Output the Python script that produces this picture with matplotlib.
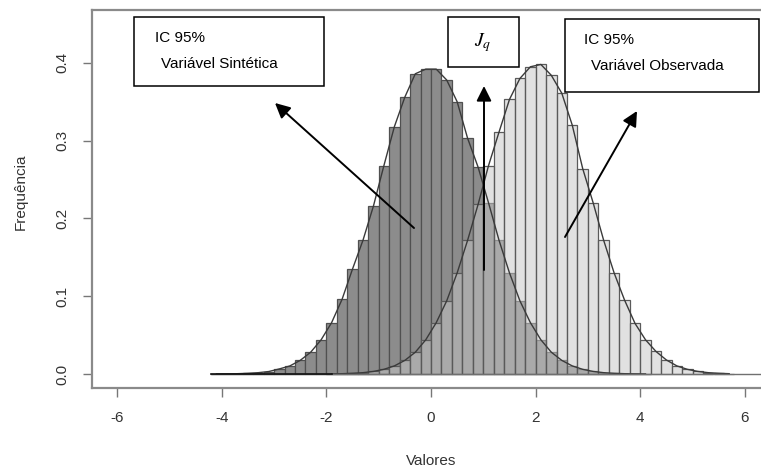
import matplotlib
matplotlib.use("Agg")
import matplotlib.pyplot as plt
from matplotlib.patches import Rectangle

# ---- data ----
bin_width = 0.2
synthetic_centers = [-4.1, -3.9, -3.7, -3.5, -3.3, -3.1, -2.9, -2.7, -2.5, -2.3,
                     -2.1, -1.9, -1.7, -1.5, -1.3, -1.1, -0.9, -0.7, -0.5, -0.3,
                     -0.1, 0.1, 0.3, 0.5, 0.7, 0.9, 1.1, 1.3, 1.5, 1.7,
                     1.9, 2.1, 2.3, 2.5, 2.7, 2.9, 3.1, 3.3, 3.5, 3.7,
                     3.9, 4.1]
synthetic_freq = [0.0001, 0.0002, 0.0004, 0.0009, 0.0017, 0.0032, 0.0065, 0.0103, 0.0175, 0.028,
                  0.044, 0.066, 0.096, 0.135, 0.172, 0.216, 0.268, 0.318, 0.356, 0.386,
                  0.392, 0.392, 0.378, 0.350, 0.303, 0.266, 0.220, 0.172, 0.130, 0.094,
                  0.066, 0.044, 0.028, 0.0175, 0.0104, 0.006, 0.0033, 0.0017, 0.0009, 0.0004,
                  0.0002, 0.0001]
observed_centers = [-1.9, -1.7, -1.5, -1.3, -1.1, -0.9, -0.7, -0.5, -0.3, -0.1,
                    0.1, 0.3, 0.5, 0.7, 0.9, 1.1, 1.3, 1.5, 1.7, 1.9,
                    2.1, 2.3, 2.5, 2.7, 2.9, 3.1, 3.3, 3.5, 3.7, 3.9,
                    4.1, 4.3, 4.5, 4.7, 4.9, 5.1, 5.3, 5.5, 5.7]
observed_freq = [0.0002, 0.0004, 0.0009, 0.0017, 0.0033, 0.006, 0.0104, 0.0175, 0.028, 0.044,
                 0.066, 0.094, 0.130, 0.172, 0.218, 0.268, 0.311, 0.353, 0.380, 0.395,
                 0.398, 0.384, 0.361, 0.320, 0.264, 0.220, 0.172, 0.130, 0.095, 0.065,
                 0.044, 0.029, 0.018, 0.0104, 0.006, 0.0033, 0.0017, 0.0009, 0.0004]
x_ticks = [-6, -4, -2, 0, 2, 4, 6]
y_ticks = [0.0, 0.1, 0.2, 0.3, 0.4]
y_tick_labels = ["0.0", "0.1", "0.2", "0.3", "0.4"]

W, H = 761, 470
fig = plt.figure(figsize=(W / 100, H / 100), dpi=100)
fig.patch.set_facecolor("white")

def fx(px):
    return px / W

def fy(py):
    return 1 - py / H

ax = fig.add_axes([fx(92), fy(388), (770 - 92) / W, (388 - 10) / H])
ax.set_xlim(-6.48, 6.48)
ax.set_ylim(-0.018, 0.468)

ax.bar(synthetic_centers, synthetic_freq, width=bin_width, color="#8c8c8c",
       edgecolor="#505050", linewidth=0.9, zorder=2)
ax.bar(observed_centers, observed_freq, width=bin_width,
       color=(198 / 255, 198 / 255, 198 / 255, 0.52),
       edgecolor="#5a5a5a", linewidth=0.9, zorder=3)

ax.plot(synthetic_centers, synthetic_freq, color="#3a3a3a", lw=1.0, zorder=4)
ax.plot(observed_centers, observed_freq, color="#3a3a3a", lw=1.0, zorder=4)
ax.plot([synthetic_centers[0] - bin_width / 2, 6.48], [0, 0], color="#707070", lw=1.0, zorder=4)
ax.plot([synthetic_centers[0] - bin_width / 2, observed_centers[0]], [0, 0], color="#111111", lw=1.2, zorder=5)

for s in ax.spines.values():
    s.set_color("#8a8a8a")
    s.set_linewidth(1.6)

ax.set_xticks(x_ticks)
ax.set_xticklabels([str(t) for t in x_ticks])
ax.set_yticks(y_ticks)
ax.set_yticklabels(y_tick_labels, rotation=90, va="center")
ax.tick_params(direction="out", length=6.5, width=1.0, color="#777777",
               labelsize=11, labelcolor="#333333", pad=10)
for lab in ax.get_xticklabels() + ax.get_yticklabels():
    lab.set_family(["Liberation Sans", "DejaVu Sans"])

fig.text(fx(431), fy(461), "Valores", ha="center", va="center", fontsize=11,
         color="#333333", family=["Liberation Sans", "DejaVu Sans"])
fig.text(fx(21), fy(192), "Frequência", ha="center", va="center", rotation=90,
         fontsize=11, color="#333333", family=["Liberation Sans", "DejaVu Sans"])

# ---- annotation boxes ----
def box(x0, y0, x1, y1):
    r = Rectangle((fx(x0), fy(y1)), fx(x1) - fx(x0), fy(y0) - fy(y1),
                  transform=fig.transFigure, facecolor="white", edgecolor="black",
                  linewidth=1.1, zorder=10)
    fig.add_artist(r)

box(134, 17, 324, 86)
box(448, 17, 519, 67)
box(565, 19, 759, 92)

tfam = ["Liberation Sans", "DejaVu Sans"]
fig.text(fx(155), fy(38), "IC 95%", ha="left", va="center", fontsize=11, family=tfam, zorder=11)
fig.text(fx(161), fy(64), "Variável Sintética", ha="left", va="center", fontsize=11, family=tfam, zorder=11)
fig.text(fx(584), fy(40), "IC 95%", ha="left", va="center", fontsize=11, family=tfam, zorder=11)
fig.text(fx(591), fy(66), "Variável Observada", ha="left", va="center", fontsize=11, family=tfam, zorder=11)
fig.text(fx(483), fy(43), r"$J_q$", ha="center", va="center", fontsize=14,
         math_fontfamily="stix", zorder=11)

# ---- arrows ----
def arrow(x0, y0, x1, y1):
    fig.add_artist(matplotlib.patches.FancyArrowPatch(
        (fx(x0), fy(y0)), (fx(x1), fy(y1)), transform=fig.transFigure,
        arrowstyle="-|>,head_length=9,head_width=4.5", color="black",
        linewidth=1.4, shrinkA=0, shrinkB=0, zorder=12))

arrow(414, 228, 275, 103)
arrow(484, 270, 484, 86)
arrow(565, 237, 637, 111)

fig.savefig("out.png", dpi=100, facecolor="white")
